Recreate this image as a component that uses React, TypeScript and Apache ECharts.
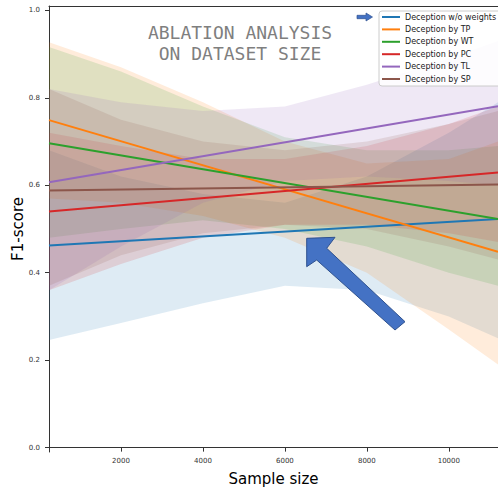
import React, { useEffect, useRef } from "react";
import * as echarts from "echarts";

// ---------- data ----------
const seriesNames = [
  "Deception w/o weights",
  "Deception by TP",
  "Deception by WT",
  "Deception by PC",
  "Deception by TL",
  "Deception by SP",
];
const colors = ["#1f77b4", "#ff7f0e", "#2ca02c", "#d62728", "#9467bd", "#8c564b"];

// regression line end points
const lineX = [244, 11200];
const lineBlue = [0.462, 0.523];
const lineOrange = [0.749, 0.448];
const lineGreen = [0.696, 0.523];
const lineRed = [0.54, 0.629];
const linePurple = [0.607, 0.781];
const lineBrown = [0.588, 0.602];

// confidence bands
const bandX = [244, 2000, 4000, 6000, 8000, 10000, 11200];
const blueLow = [0.246, 0.285, 0.33, 0.37, 0.36, 0.3, 0.25];
const blueHigh = [0.68, 0.62, 0.58, 0.56, 0.62, 0.72, 0.79];
const orangeLow = [0.57, 0.56, 0.53, 0.48, 0.4, 0.27, 0.19];
const orangeHigh = [0.927, 0.87, 0.79, 0.7, 0.65, 0.66, 0.7];
const greenLow = [0.48, 0.5, 0.52, 0.5, 0.46, 0.4, 0.37];
const greenHigh = [0.916, 0.86, 0.78, 0.71, 0.68, 0.68, 0.69];
const redLow = [0.36, 0.42, 0.48, 0.51, 0.51, 0.49, 0.47];
const redHigh = [0.72, 0.69, 0.66, 0.66, 0.69, 0.74, 0.78];
const purpleLow = [0.36, 0.46, 0.56, 0.61, 0.62, 0.61, 0.6];
const purpleHigh = [0.82, 0.79, 0.77, 0.78, 0.83, 0.89, 0.93];
const brownLow = [0.37, 0.44, 0.49, 0.51, 0.5, 0.46, 0.43];
const brownHigh = [0.82, 0.75, 0.7, 0.68, 0.7, 0.74, 0.77];

const xTicks = [2000, 4000, 6000, 8000, 10000];
const yTicks = [0, 0.2, 0.4, 0.6, 0.8, 1.0];

const lines = [lineBlue, lineOrange, lineGreen, lineRed, linePurple, lineBrown];
const bandsLow = [blueLow, orangeLow, greenLow, redLow, purpleLow, brownLow];
const bandsHigh = [blueHigh, orangeHigh, greenHigh, redHigh, purpleHigh, brownHigh];

const FONT = "DejaVu Sans";
const AXIS_COLOR = "#333";

export default function App() {
  const ref = useRef<HTMLDivElement>(null);
  useEffect(() => {
    if (!ref.current) return;
    const chart = echarts.init(ref.current, null, { renderer: "svg" });

    const bandSeries = bandsLow.map((low, i) => ({
      type: "custom",
      name: "band" + i,
      coordinateSystem: "cartesian2d",
      clip: true,
      silent: true,
      z: 1,
      data: [[bandX[0], low[0]]],
      renderItem: (_p: any, api: any) => {
        const pts: number[][] = [];
        const high = bandsHigh[i];
        for (let k = 0; k < bandX.length; k++) pts.push(api.coord([bandX[k], high[k]]));
        for (let k = bandX.length - 1; k >= 0; k--) pts.push(api.coord([bandX[k], low[k]]));
        return {
          type: "polygon",
          shape: { points: pts },
          style: { fill: colors[i], opacity: 0.15 },
        };
      },
    }));

    const lineSeries = lines.map((vals, i) => ({
      type: "line",
      name: seriesNames[i],
      data: lineX.map((x, k) => [x, vals[k]]),
      showSymbol: false,
      symbol: "none",
      lineStyle: { color: colors[i], width: 2 },
      itemStyle: { color: colors[i] },
      z: 3,
    }));

    const axisCommon = {
      axisLine: { show: true, lineStyle: { color: AXIS_COLOR, width: 1 } },
      axisTick: { show: true, length: 4, lineStyle: { color: AXIS_COLOR } },
      splitLine: { show: false },
    };

    chart.setOption({
      animation: false,
      textStyle: { fontFamily: FONT },
      grid: {
        left: 49,
        right: 0,
        top: 6,
        bottom: 37,
        containLabel: false,
        outerBoundsMode: "none",
      },
      xAxis: [
        {
          type: "value",
          min: 244,
          max: 11200,
          position: "bottom",
          ...axisCommon,
          axisTick: { ...axisCommon.axisTick, customValues: xTicks },
          axisLabel: {
            customValues: xTicks,
            fontSize: 7,
            color: "#333",
            margin: 5,
            fontFamily: FONT,
            formatter: (v: number) => String(v),
          },
          name: "Sample size",
          nameLocation: "middle",
          nameGap: 19,
          nameMoveOverlap: false,
          nameTextStyle: { fontSize: 15, color: "#000", fontFamily: FONT, verticalAlign: "top" },
        },
        {
          type: "value",
          min: 244,
          max: 11200,
          position: "top",
          axisLine: { show: true, lineStyle: { color: AXIS_COLOR, width: 1 } },
          axisTick: { show: false },
          axisLabel: { show: false },
          splitLine: { show: false },
        },
      ],
      yAxis: {
        type: "value",
        min: -0.01,
        max: 1.01,
        ...axisCommon,
        axisTick: { ...axisCommon.axisTick, customValues: yTicks },
        axisLabel: {
          customValues: yTicks,
          fontSize: 7,
          color: "#333",
          margin: 9,
          fontFamily: FONT,
          formatter: (v: number) => v.toFixed(1),
        },
        name: "F1-score",
        nameLocation: "middle",
        nameGap: 24,
        nameMoveOverlap: false,
        nameTextStyle: { fontSize: 15, color: "#000", fontFamily: FONT },
      },
      legend: {
        data: seriesNames,
        orient: "vertical",
        left: 379,
        top: 11,
        icon: "rect",
        itemWidth: 18,
        itemHeight: 2,
        itemGap: 2.4,
        padding: [1, 6, 2, 3],
        backgroundColor: "rgba(255,255,255,0.85)",
        borderColor: "#cccccc",
        borderWidth: 1,
        borderRadius: 3,
        textStyle: { fontSize: 8, lineHeight: 10, color: "#222", fontFamily: FONT },
      },
      graphic: [
        {
          type: "text",
          x: 240,
          y: 42.5,
          style: {
            text: "ABLATION ANALYSIS\nON DATASET SIZE",
            font: '18px "DejaVu Sans Mono"',
            fill: "#7f7f7f",
            align: "center",
            verticalAlign: "middle",
            lineHeight: 21,
          },
          z: 10,
        },
        {
          type: "polygon",
          shape: {
            points: [
              [306.7, 238.3],
              [335, 237.3],
              [326.7, 248.3],
              [405, 321.7],
              [395, 330],
              [316.7, 260],
              [306.7, 266.7],
            ],
          },
          style: { fill: "#4472c4", stroke: "#2f528f", lineWidth: 1 },
          z: 20,
        },
        {
          type: "polygon",
          shape: {
            points: [
              [357, 15.3],
              [366, 15.3],
              [366, 13],
              [372.5, 17],
              [366, 21],
              [366, 18.7],
              [357, 18.7],
            ],
          },
          style: { fill: "#4472c4", stroke: "#2f528f", lineWidth: 0.7 },
          z: 20,
        },
      ],
      series: [...bandSeries, ...lineSeries],
    });
    return () => chart.dispose();
  }, []);
  return (
    <div
      ref={ref}
      style={{ position: "fixed", left: 0, top: 0, width: 498, height: 489, background: "#fff" }}
    />
  );
}
